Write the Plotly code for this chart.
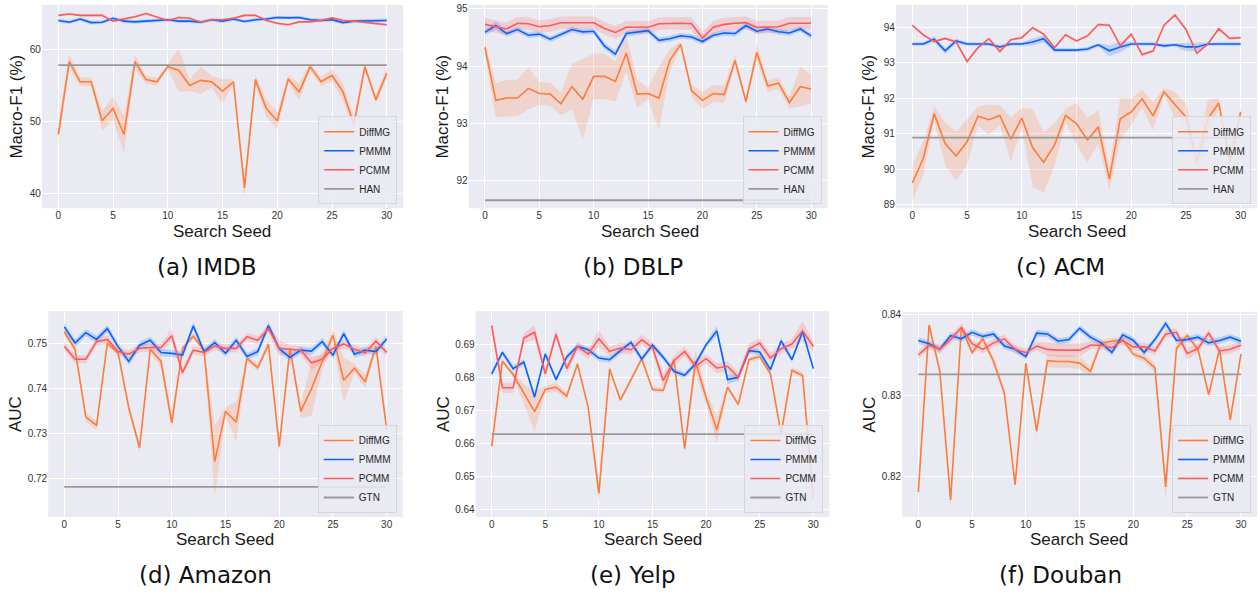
import plotly.graph_objects as go

W, H = 1260, 596
seeds = list(range(31))
x_ticks = [0, 5, 10, 15, 20, 25, 30]

# ---------------- (a) IMDB ----------------
imdb_diffmg = [48.2, 58.3, 55.5, 55.5, 50.1, 51.8, 48.2, 58.3, 55.8, 55.5, 57.6, 57.1, 55.0, 55.7, 55.5, 54.2,
               55.5, 40.8, 55.8, 51.8, 50.1, 55.9, 54.1, 57.6, 55.5, 56.4, 54.1, 49.6, 57.6, 53.0, 56.7]
imdb_diffmg_err = [1.5, 1.0, 0.6, 0.6, 1.4, 1.6, 2.6, 1.0, 0.6, 0.5, 0.3, 3.0, 0.8, 1.9, 0.8, 1.7,
                   0.3, 1.5, 0.7, 1.2, 1.2, 0.5, 1.2, 0.5, 0.6, 0.8, 1.2, 1.0, 0.5, 0.6, 0.7]
imdb_pmmm = [64.0, 63.75, 64.2, 63.7, 63.75, 64.3, 63.9, 63.8, 63.9, 64.0, 64.1, 63.9, 63.9, 63.75, 64.1, 63.9,
             64.2, 63.85, 64.1, 64.2, 64.4, 64.35, 64.4, 64.1, 64.0, 64.1, 63.7, 63.9, 63.9, 64.0, 64.0]
imdb_pmmm_err = [0.25] * 31
imdb_pcmm = [64.7, 64.9, 64.7, 64.7, 64.7, 63.9, 64.2, 64.5, 64.95, 64.5, 64.0, 64.4, 64.3, 63.75, 64.1, 64.1,
             64.3, 64.7, 64.7, 64.0, 63.6, 63.4, 63.8, 63.8, 64.0, 64.35, 64.0, 63.9, 63.75, 63.5, 63.4]
imdb_pcmm_err = [0.15] * 31
imdb_han = 57.8

# ---------------- (b) DBLP ----------------
dblp_diffmg = [94.33, 93.40, 93.44, 93.44, 93.61, 93.52, 93.51, 93.34, 93.64, 93.42, 93.82, 93.82, 93.73, 94.23,
               93.51, 93.52, 93.44, 94.10, 94.38, 93.57, 93.40, 93.52, 93.50, 94.10, 93.38, 94.24, 93.65, 93.70,
               93.36, 93.64, 93.60]
dblp_diffmg_err = [0.12, 0.3, 0.32, 0.32, 0.37, 0.2, 0.2, 0.2, 0.4, 0.7, 0.4, 0.4, 0.35, 0.32, 0.25, 0.1,
                   0.55, 0.2, 0.05, 0.1, 0.15, 0.15, 0.15, 0.1, 0.05, 0.15, 0.1, 0.1, 0.1, 0.35, 0.25]
dblp_pmmm = [94.59, 94.71, 94.57, 94.64, 94.54, 94.56, 94.47, 94.55, 94.64, 94.60, 94.61, 94.35, 94.21, 94.57,
             94.60, 94.62, 94.45, 94.48, 94.53, 94.51, 94.43, 94.54, 94.58, 94.57, 94.71, 94.61, 94.65, 94.60,
             94.58, 94.65, 94.53]
dblp_pmmm_err = [0.05, 0.08, 0.05, 0.05, 0.05, 0.05, 0.05, 0.05, 0.05, 0.05, 0.05, 0.06, 0.06, 0.05, 0.05, 0.05,
                 0.05, 0.05, 0.05, 0.05, 0.05, 0.05, 0.05, 0.05, 0.05, 0.05, 0.05, 0.05, 0.05, 0.05, 0.05]
dblp_pcmm = [94.73, 94.69, 94.65, 94.75, 94.74, 94.69, 94.71, 94.76, 94.76, 94.76, 94.76, 94.66, 94.59, 94.68,
             94.68, 94.68, 94.74, 94.75, 94.75, 94.74, 94.49, 94.68, 94.73, 94.75, 94.76, 94.68, 94.68, 94.69,
             94.75, 94.75, 94.75]
dblp_pcmm_err = [0.11] * 31
dblp_han = 91.65

# ---------------- (c) ACM ----------------
acm_diffmg = [89.61, 90.30, 91.56, 90.72, 90.37, 90.77, 91.49, 91.39, 91.51, 90.84, 91.44, 90.60, 90.19, 90.69,
              91.51, 91.28, 90.82, 91.19, 89.72, 91.42, 91.61, 91.98, 91.50, 92.18, 91.81, 91.47, 90.21, 91.42,
              91.86, 90.21, 91.61]
acm_diffmg_err = [0.5, 0.47, 0.2, 0.6, 0.68, 0.65, 0.27, 0.43, 0.28, 0.62, 0.28, 1.1, 0.85, 0.6, 0.2, 0.58,
                  0.63, 0.47, 0.33, 0.6, 0.37, 0.26, 0.4, 0.1, 0.37, 0.37, 0.28, 0.53, 0.14, 0.23, 0.14]
acm_pmmm = [93.52, 93.52, 93.66, 93.33, 93.61, 93.52, 93.52, 93.52, 93.44, 93.52, 93.52, 93.58, 93.67, 93.35,
            93.35, 93.35, 93.38, 93.50, 93.33, 93.44, 93.52, 93.52, 93.52, 93.47, 93.50, 93.44, 93.44, 93.52,
            93.52, 93.52, 93.52]
acm_pmmm_err = [0.05, 0.05, 0.08, 0.08, 0.07, 0.05, 0.05, 0.05, 0.06, 0.05, 0.05, 0.1, 0.1, 0.06, 0.05, 0.05,
                0.06, 0.05, 0.15, 0.15, 0.05, 0.05, 0.05, 0.05, 0.05, 0.12, 0.12, 0.05, 0.05, 0.05, 0.05]
acm_pcmm = [94.05, 93.78, 93.59, 93.68, 93.58, 93.03, 93.42, 93.67, 93.31, 93.64, 93.70, 93.98, 93.80, 93.42,
            93.78, 93.61, 93.75, 94.07, 94.05, 93.47, 93.80, 93.22, 93.33, 94.05, 94.34, 93.93, 93.26, 93.52,
            93.95, 93.68, 93.70]
acm_pcmm_err = [0.04] * 31
acm_han = 90.89

# ---------------- (d) Amazon ----------------
amazon_diffmg = [0.7526, 0.7487, 0.7336, 0.7318, 0.7500, 0.7479, 0.7357, 0.7268, 0.7487, 0.7460, 0.7324, 0.7489,
                 0.7516, 0.7485, 0.7237, 0.7349, 0.7325, 0.7467, 0.7446, 0.7498, 0.7271, 0.7489, 0.7349, 0.7399,
                 0.7460, 0.7518, 0.7418, 0.7445, 0.7415, 0.7494, 0.7309]
amazon_diffmg_err = [0.0008, 0.0008, 0.001, 0.001, 0.0006, 0.0006, 0.0008, 0.0012, 0.0006, 0.0015, 0.002, 0.0006,
                     0.0006, 0.0006, 0.008, 0.001, 0.0045, 0.0008, 0.0008, 0.0008, 0.0012, 0.0006, 0.0015, 0.006,
                     0.002, 0.0012, 0.005, 0.001, 0.0015, 0.0008, 0.0012]
amazon_pmmm = [0.7537, 0.7501, 0.7524, 0.7509, 0.7533, 0.7493, 0.7460, 0.7496, 0.7507, 0.7480, 0.7478, 0.7474,
               0.7539, 0.7482, 0.7502, 0.7478, 0.7507, 0.7471, 0.7482, 0.7540, 0.7488, 0.7469, 0.7485, 0.7483,
               0.7504, 0.7474, 0.7522, 0.7476, 0.7485, 0.7482, 0.7510]
amazon_pmmm_err = [0.0008] * 31
amazon_pcmm = [0.7494, 0.7465, 0.7465, 0.7504, 0.7509, 0.7482, 0.7476, 0.7489, 0.7491, 0.7491, 0.7517, 0.7435,
               0.7485, 0.7480, 0.7494, 0.7489, 0.7489, 0.7515, 0.7507, 0.7533, 0.7489, 0.7487, 0.7485, 0.7457,
               0.7465, 0.7489, 0.7499, 0.7487, 0.7479, 0.7505, 0.7480]
amazon_pcmm_err = [0.0009, 0.0009, 0.0009, 0.0009, 0.0009, 0.0009, 0.0009, 0.0009, 0.0009, 0.0009, 0.0015, 0.0009,
                   0.0009, 0.0009, 0.0009, 0.0009, 0.0009, 0.0009, 0.0009, 0.0009, 0.0018, 0.0009, 0.0009, 0.0015,
                   0.0009, 0.0009, 0.0009, 0.0009, 0.0009, 0.0009, 0.0009]
amazon_gtn = 0.7181

# ---------------- (e) Yelp ----------------
yelp_diffmg = [0.6591, 0.6848, 0.6808, 0.6750, 0.6696, 0.6763, 0.6770, 0.6743, 0.6840, 0.6710, 0.6449, 0.6825,
               0.6731, 0.6793, 0.6856, 0.6763, 0.6760, 0.6853, 0.6584, 0.6848, 0.6738, 0.6641, 0.6770, 0.6718,
               0.6853, 0.6863, 0.6810, 0.6629, 0.6821, 0.6805, 0.6434]
yelp_diffmg_err = [0.001, 0.0007, 0.0007, 0.003, 0.006, 0.001, 0.0015, 0.001, 0.0007, 0.0007, 0.003, 0.0007,
                   0.0007, 0.0007, 0.0007, 0.0008, 0.0008, 0.0007, 0.0012, 0.0035, 0.002, 0.004, 0.0008, 0.0008,
                   0.0008, 0.0008, 0.0008, 0.0008, 0.0008, 0.001, 0.003]
yelp_pmmm = [0.6810, 0.6875, 0.6826, 0.6846, 0.6740, 0.6870, 0.6793, 0.6861, 0.6893, 0.6883, 0.6858, 0.6853,
             0.6880, 0.6905, 0.6855, 0.6897, 0.6860, 0.6818, 0.6806, 0.6840, 0.6898, 0.6940, 0.6793, 0.6800,
             0.6880, 0.6876, 0.6823, 0.6910, 0.6853, 0.6938, 0.6826]
yelp_pmmm_err = [0.0009] * 21 + [0.0015, 0.0015] + [0.0009] * 8
yelp_pcmm = [0.6956, 0.6768, 0.6768, 0.6918, 0.6936, 0.6810, 0.6930, 0.6826, 0.6893, 0.6870, 0.6916, 0.6878,
             0.6888, 0.6883, 0.6913, 0.6890, 0.6790, 0.6850, 0.6878, 0.6833, 0.6856, 0.6828, 0.6833, 0.6800,
             0.6886, 0.6903, 0.6858, 0.6886, 0.6900, 0.6940, 0.6893]
yelp_pcmm_err = [0.0015, 0.0015, 0.0015, 0.0015, 0.0022, 0.0015, 0.0015, 0.0015, 0.0015, 0.0015, 0.0025, 0.0015,
                 0.0015, 0.0015, 0.0015, 0.0015, 0.002, 0.0015, 0.0015, 0.0015, 0.0015, 0.0015, 0.0015, 0.0015,
                 0.0015, 0.0015, 0.0015, 0.0015, 0.0015, 0.003, 0.0015]
yelp_gtn = 0.6628

# ---------------- (f) Douban ----------------
douban_diffmg = [0.8181, 0.8387, 0.8330, 0.8171, 0.8384, 0.8353, 0.8370, 0.8342, 0.8303, 0.8190, 0.8340, 0.8256,
                 0.8343, 0.8342, 0.8342, 0.8340, 0.8330, 0.8365, 0.8367, 0.8369, 0.8351, 0.8346, 0.8334, 0.8187,
                 0.8358, 0.8374, 0.8357, 0.8301, 0.8357, 0.8270, 0.8351]
douban_diffmg_err = [0.0008, 0.0004, 0.0004, 0.0008, 0.0004, 0.0004, 0.0004, 0.0006, 0.0005, 0.0005, 0.0004,
                     0.0005, 0.0008, 0.0008, 0.0008, 0.0008, 0.0006, 0.0004, 0.0004, 0.0004, 0.0004, 0.0005,
                     0.0006, 0.0015, 0.0004, 0.0004, 0.0004, 0.0004, 0.0004, 0.0005, 0.0004]
douban_pmmm = [0.8368, 0.8364, 0.8357, 0.8374, 0.8370, 0.8378, 0.8373, 0.8376, 0.8361, 0.8357, 0.8348, 0.8377,
               0.8376, 0.8367, 0.8369, 0.8383, 0.8372, 0.8365, 0.8353, 0.8375, 0.8368, 0.8353, 0.8369, 0.8389,
               0.8368, 0.8369, 0.8372, 0.8365, 0.8368, 0.8372, 0.8367]
douban_pmmm_err = [0.0004] * 31
douban_pcmm = [0.8350, 0.8362, 0.8357, 0.8369, 0.8384, 0.8364, 0.8357, 0.8365, 0.8370, 0.8357, 0.8353, 0.8361,
               0.8357, 0.8356, 0.8356, 0.8356, 0.8362, 0.8362, 0.8359, 0.8368, 0.8360, 0.8360, 0.8355, 0.8376,
               0.8378, 0.8352, 0.8358, 0.8377, 0.8355, 0.8357, 0.8362]
douban_pcmm_err = [0.0005] * 12 + [0.0008] * 4 + [0.0005] * 9 + [0.0008] + [0.0005] * 5
douban_gtn = 0.8326

# ---------------- panel definitions ----------------
panels = [
    dict(cap="(a) IMDB", ylab="Macro-F1 (%)", base="HAN",
         data=(imdb_diffmg, imdb_diffmg_err, imdb_pmmm, imdb_pmmm_err, imdb_pcmm, imdb_pcmm_err, imdb_han),
         xpx=(41.9, 403.2), ypx=(2, 207), yr=(37.98, 66.14), yt=[40, 50, 60], fmt="d",
         ylx=17, capx=206, sx=222),
    dict(cap="(b) DBLP", ylab="Macro-F1 (%)", base="HAN",
         data=(dblp_diffmg, dblp_diffmg_err, dblp_pmmm, dblp_pmmm_err, dblp_pcmm, dblp_pcmm_err, dblp_han),
         xpx=(468.6, 827.5), ypx=(2, 207), yr=(91.51, 95.07), yt=[92, 93, 94, 95], fmt="d",
         ylx=443, capx=633, sx=650),
    dict(cap="(c) ACM", ylab="Macro-F1 (%)", base="HAN",
         data=(acm_diffmg, acm_diffmg_err, acm_pmmm, acm_pmmm_err, acm_pcmm, acm_pcmm_err, acm_han),
         xpx=(895.9, 1257.1), ypx=(2, 207), yr=(88.9, 94.62), yt=[89, 90, 91, 92, 93, 94], fmt="d",
         ylx=869, capx=1060, sx=1077),
    dict(cap="(d) Amazon", ylab="AUC", base="GTN",
         data=(amazon_diffmg, amazon_diffmg_err, amazon_pmmm, amazon_pmmm_err, amazon_pcmm, amazon_pcmm_err,
               amazon_gtn),
         xpx=(48.2, 402.8), ypx=(310.7, 518.3), yr=(0.7114, 0.7572), yt=[0.72, 0.73, 0.74, 0.75], fmt=".2f",
         ylx=15, capx=205, sx=225),
    dict(cap="(e) Yelp", ylab="AUC", base="GTN",
         data=(yelp_diffmg, yelp_diffmg_err, yelp_pmmm, yelp_pmmm_err, yelp_pcmm, yelp_pcmm_err, yelp_gtn),
         xpx=(475.6, 829.4), ypx=(310.7, 518.3), yr=(0.6378, 0.69997),
         yt=[0.64, 0.65, 0.66, 0.67, 0.68, 0.69], fmt=".2f",
         ylx=443, capx=633, sx=653),
    dict(cap="(f) Douban", ylab="AUC", base="GTN",
         data=(douban_diffmg, douban_diffmg_err, douban_pmmm, douban_pmmm_err, douban_pcmm, douban_pcmm_err,
               douban_gtn),
         xpx=(902.2, 1257.1), ypx=(311.7, 518.3), yr=(0.8150, 0.8403), yt=[0.82, 0.83, 0.84], fmt=".2f",
         ylx=870, capx=1060, sx=1079),
]

COL = {"DiffMG": "#FF7B3A", "PMMM": "#0A62FF", "PCMM": "#FF5A5A", "base": "#999999"}
BAND = {"DiffMG": "rgba(255,123,58,0.2)", "PMMM": "rgba(10,98,255,0.2)", "PCMM": "rgba(255,90,90,0.2)"}
LEG_BG = "rgba(234,234,242,0.85)"


def fx(p):
    return p / W


def fy(p):
    return 1 - p / H


fig = go.Figure()
layout = dict(
    width=W, height=H, margin=dict(l=0, r=0, t=0, b=0),
    paper_bgcolor="white", plot_bgcolor="#EAEAF2",
    font=dict(family="Liberation Sans, Arial, sans-serif", color="#262626"),
    showlegend=True,
)
annotations = []

for k, p in enumerate(panels):
    n = k + 1
    xa = "x" if n == 1 else f"x{n}"
    ya = "y" if n == 1 else f"y{n}"
    leg = "legend" if n == 1 else f"legend{n}"
    d_m, d_e, pm_m, pm_e, pc_m, pc_e, base_v = p["data"]
    for name, m, e in (("DiffMG", d_m, d_e), ("PMMM", pm_m, pm_e), ("PCMM", pc_m, pc_e)):
        up = [a + b for a, b in zip(m, e)]
        lo = [a - b for a, b in zip(m, e)]
        fig.add_trace(go.Scatter(x=seeds + seeds[::-1], y=up + lo[::-1], fill="toself",
                                 fillcolor=BAND[name], line=dict(width=0), mode="lines",
                                 hoverinfo="skip", showlegend=False, xaxis=xa, yaxis=ya))
    for name, m in (("DiffMG", d_m), ("PMMM", pm_m), ("PCMM", pc_m)):
        fig.add_trace(go.Scatter(x=seeds, y=m, mode="lines", name=name,
                                 line=dict(color=COL[name], width=1.6),
                                 xaxis=xa, yaxis=ya, legend=leg))
    fig.add_trace(go.Scatter(x=[seeds[0], seeds[-1]], y=[base_v, base_v], mode="lines", name=p["base"],
                             line=dict(color=COL["base"], width=1.8), xaxis=xa, yaxis=ya, legend=leg))

    x0, x1 = p["xpx"]
    ytop, ybot = p["ypx"]
    axkey = "xaxis" if n == 1 else f"xaxis{n}"
    aykey = "yaxis" if n == 1 else f"yaxis{n}"
    layout[axkey] = dict(domain=[fx(x0), fx(x1)], range=[-1.5, 31.5], anchor=ya,
                         tickvals=x_ticks, showgrid=True, gridcolor="white", gridwidth=1.2,
                         zeroline=False, showline=False, ticks="",
                         tickfont=dict(size=10, color="#333333"))
    layout[aykey] = dict(domain=[fy(ybot), fy(ytop)], range=list(p["yr"]), anchor=xa,
                         tickvals=p["yt"], tickformat=p["fmt"], showgrid=True, gridcolor="white",
                         gridwidth=1.2, zeroline=False, showline=False, ticks="",
                         tickfont=dict(size=10, color="#333333"))
    layout[leg] = dict(x=fx(x1 - 6), y=fy(ybot - 4), xanchor="right", yanchor="bottom",
                       bgcolor=LEG_BG, bordercolor="#D5D5DC", borderwidth=1,
                       font=dict(size=10, color="#262626"), tracegroupgap=0,
                       itemwidth=30)
    # y-axis title
    annotations.append(dict(text=p["ylab"], x=fx(p["ylx"]), y=fy((ytop + ybot) / 2), xref="paper",
                            yref="paper", textangle=-90, showarrow=False,
                            font=dict(size=17, color="#1a1a1a"), xanchor="center", yanchor="middle"))
    # x-axis title
    annotations.append(dict(text="Search Seed", x=fx(p["sx"]), y=fy(ybot + 23), xref="paper", yref="paper",
                            showarrow=False, font=dict(size=17, color="#1a1a1a"),
                            xanchor="center", yanchor="middle"))
    # caption
    annotations.append(dict(text=p["cap"], x=fx(p["capx"]), y=fy(ybot + 59), xref="paper", yref="paper",
                            showarrow=False, font=dict(size=23, color="#111111", family="DejaVu Sans"),
                            xanchor="center", yanchor="middle"))

layout["annotations"] = annotations
fig.update_layout(**layout)
fig.write_html("out.html", config={"displayModeBar": False},
               post_script="document.body.style.margin='0';document.body.style.overflow='hidden';")
